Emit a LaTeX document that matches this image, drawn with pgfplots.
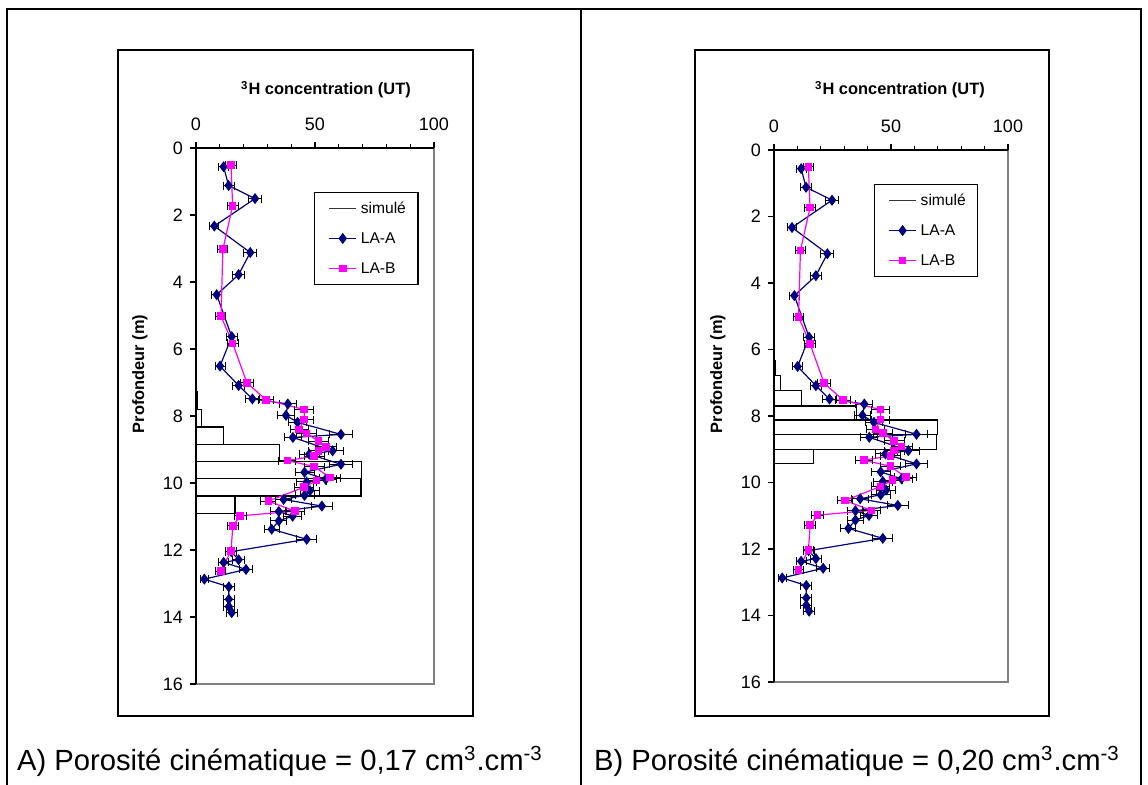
\documentclass[border=0pt]{standalone}
\usepackage{fontspec}
\setmainfont{Liberation Sans}
\usepackage{pgfplots}
\usepackage{pgfplotstable}
\pgfplotsset{compat=1.18}

\definecolor{navyA}{RGB}{0,0,128}
\definecolor{magB}{RGB}{255,0,255}
\definecolor{cadre}{RGB}{128,128,128}

% Profils mesurés : profondeur z (m), teneur c (UT), incertitude e (UT)
\pgfplotstableread{
z     c     e
0.56  11.6  2.1
1.12  13.7  2.3
1.51  24.8  2.9
2.33  7.7   1.9
3.12  22.8  2.8
3.78  17.9  2.5
4.38  8.7   2.0
5.63  15.0  2.3
6.51  10.1  2.1
7.09  17.9  2.5
7.49  23.7  2.8
7.64  38.6  3.6
7.98  37.8  3.6
8.19  42.7  3.8
8.55  60.9  4.8
8.64  40.7  3.7
9.04  57.4  4.7
9.14  47.6  4.1
9.44  60.9  4.8
9.68  45.6  4.0
9.89  54.5  4.5
9.97  46.5  4.1
10.23 47.9  4.1
10.37 45.6  4.0
10.49 36.8  3.5
10.69 52.9  4.4
10.85 34.8  3.4
10.99 40.6  3.7
11.13 34.8  3.4
11.38 31.8  3.2
11.68 46.5  4.3
12.05 14.8  2.3
12.29 17.9  2.5
12.37 11.6  2.1
12.58 21.0  2.7
12.87 3.5   1.7
13.10 13.8  2.3
13.47 13.8  2.3
13.69 13.8  2.3
13.87 15.0  2.3
}\laA

\pgfplotstableread{
z     c     e
0.51  14.7  2.3
1.73  15.4  2.3
3.02  11.3  2.1
5.02  10.5  2.1
5.83  15.4  2.3
7.01  21.4  2.7
7.52  29.5  3.1
7.81  45.5  4.0
8.11  45.5  4.0
8.40  43.4  3.9
8.52  46.5  4.1
8.75  51.4  4.3
8.92  54.5  4.5
9.04  51.4  4.3
9.20  49.7  4.2
9.33  38.4  3.6
9.51  49.7  4.2
9.84  56.3  4.6
9.93  50.6  4.3
10.12 45.5  4.0
10.54 30.4  3.2
10.84 41.6  3.8
10.98 18.6  2.5
11.28 15.5  2.4
12.03 14.7  2.3
12.63 10.4  2.1
}\laB

% Profils simulés (xbar interval) : teneur v de la profondeur z à la suivante
\pgfplotstableread{
v     z
0.4   7.28
2.4   7.80
11.5  8.33
35.0  8.86
69.6  9.35
69.3  9.87
16.4  10.39
0     10.90
}\simA

\pgfplotstableread{
v     z
0.6   6.32
2.8   6.77
11.8  7.24
35.3  7.70
70.0  8.12
69.4  8.55
16.8  9.00
0     9.42
}\simB

\pgfplotsset{
  profil/.style={
    scale only axis, anchor=north west,
    xmin=0, xmax=100, ymin=0, ymax=16, y dir=reverse,
    clip=false,
    axis line style={draw=none},
    xtick={0,50,100}, minor xtick={10,20,30,40,60,70,80,90},
    ytick={0,2,...,16},
    xtick pos=upper, xticklabel pos=upper, ytick pos=left,
    tick align=outside,
    major tick length=3pt, minor tick length=2pt,
    every tick/.style={black, line width=0.6pt},
    tick label style={font=\fontsize{9}{10}\selectfont},
    xticklabel style={yshift=2pt},
    /pgf/number format/assume math mode=true,
    legend cell align=left,
    legend style={draw=black, line width=0.6pt, font=\fontsize{7.8}{9}\selectfont,
      inner xsep=4pt, inner ysep=0.5pt, row sep=0pt, anchor=north west,
      nodes={inner ysep=0pt, text height=10.2pt, text depth=4.8pt}},
    legend image code/.code={\path (0pt,0pt);
      \draw[mark repeat=2,mark phase=2,##1]
      plot coordinates {(3pt,0pt) (9.75pt,0pt) (16.5pt,0pt)};},
  },
  simule/.style={xbar interval, draw=black, fill=white, line width=0.6pt, forget plot},
  barres/.style={
    /pgfplots/error bars/x dir=both, /pgfplots/error bars/x explicit,
    /pgfplots/error bars/error bar style={black, line width=0.5pt},
    /pgfplots/error bars/error mark options={rotate=90, black, mark size=2pt, line width=0.5pt}},
  mesA/.style={navyA, line width=0.6pt, mark=diamond*, mark size=2.3pt,
    mark options={solid, fill=navyA, draw=navyA}, barres},
  mesB/.style={magB, line width=0.6pt, mark=square*, mark size=1.6pt,
    mark options={solid, fill=magB, draw=magB}, barres},
}

\begin{document}
\begin{tikzpicture}[x=0.5pt, y=-0.5pt]
\useasboundingbox (0,0) rectangle (1148,785);

% cadre du tableau
\draw[line width=1pt] (7,790) -- (7,9) -- (1141,9) -- (1141,790);
\draw[line width=1pt] (581,9) -- (581,790);
\draw[line width=0.75pt] (118,50) rectangle (473,716);
\draw[line width=0.75pt] (695,50) rectangle (1049,716);

% A) porosité 0,17
\begin{axis}[profil, at={(98pt,-74pt)}, width=119pt, height=268pt,
  legend style={at={(axis cs:49.6,1.31)}}]
\addplot[simule] table[x=v, y=z] {\simA};
\addlegendimage{black!80, line width=0.6pt}
\addlegendentry{simulé}
\addplot[mesA] table[x=c, y=z, x error=e] {\laA};
\addlegendentry{LA-A}
\addplot[mesB] table[x=c, y=z, x error=e] {\laB};
\addlegendentry{LA-B}
\draw[cadre, line width=0.75pt] (axis cs:100,0) -- (axis cs:100,16) -- (axis cs:0,16);
\draw[black, line width=0.75pt] (axis cs:0,16) -- (axis cs:0,0) -- (axis cs:100,0);
\end{axis}

% B) porosité 0,20
\begin{axis}[profil, at={(387pt,-75pt)}, width=117pt, height=266pt,
  legend style={at={(axis cs:42.7,1.02)}}]
\addplot[simule] table[x=v, y=z] {\simB};
\addlegendimage{black!80, line width=0.6pt}
\addlegendentry{simulé}
\addplot[mesA] table[x=c, y=z, x error=e] {\laA};
\addlegendentry{LA-A}
\addplot[mesB] table[x=c, y=z, x error=e] {\laB};
\addlegendentry{LA-B}
\draw[cadre, line width=0.75pt] (axis cs:100,0) -- (axis cs:100,16) -- (axis cs:0,16);
\draw[black, line width=0.75pt] (axis cs:0,16) -- (axis cs:0,0) -- (axis cs:100,0);
\end{axis}

% titres d'axes
\node[anchor=base, font=\bfseries\fontsize{8.2}{10}\selectfont] at (326,95)
  {\textsuperscript{3}H concentration (UT)};
\node[anchor=base, font=\bfseries\fontsize{8.2}{10}\selectfont] at (900,95)
  {\textsuperscript{3}H concentration (UT)};
\node[rotate=90, font=\bfseries\fontsize{8.2}{10}\selectfont] at (140,374) {Profondeur (m)};
\node[rotate=90, font=\bfseries\fontsize{8.2}{10}\selectfont] at (718,374) {Profondeur (m)};

% légendes des panneaux
\node[anchor=base west, font=\fontsize{14.6}{16}\selectfont] at (10,771)
  {A) Porosité cinématique = 0,17 cm\textsuperscript{3}.cm\textsuperscript{-3}};
\node[anchor=base west, font=\fontsize{14.6}{16}\selectfont] at (587,771)
  {B) Porosité cinématique = 0,20 cm\textsuperscript{3}.cm\textsuperscript{-3}};
\end{tikzpicture}
\end{document}
